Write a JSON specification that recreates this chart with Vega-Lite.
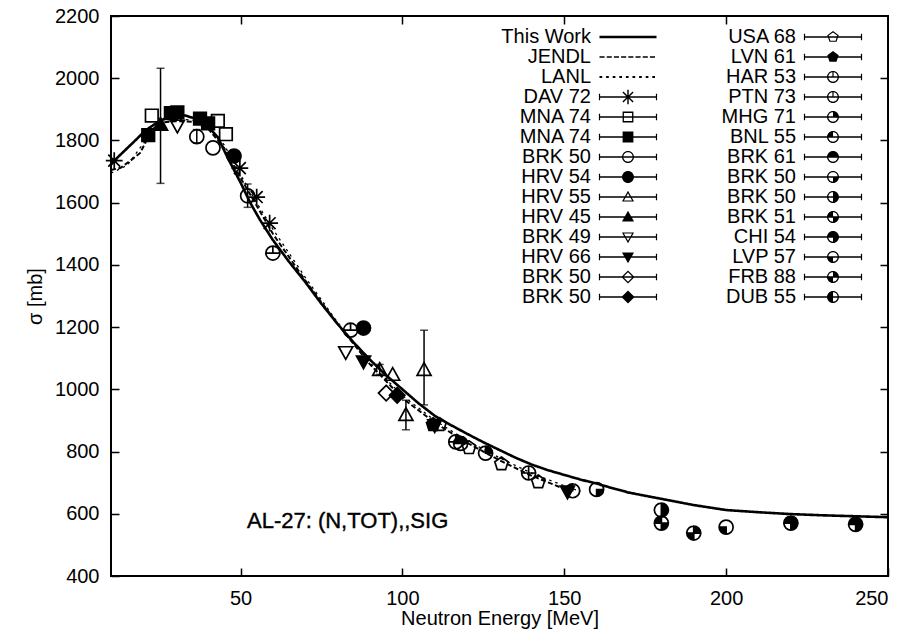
{
  "$schema": "https://vega.github.io/schema/vega-lite/v6.json",
  "width": 777,
  "height": 560,
  "autosize": {"type": "none"},
  "padding": {"left": 111, "top": 16, "right": 21, "bottom": 57},
  "background": "white",
  "config": {
    "font": "Liberation Sans",
    "view": {"stroke": "black", "strokeWidth": 2},
    "axis": {
      "domain": false, "grid": false,
      "tickColor": "black", "tickWidth": 1.5, "tickSize": -8,
      "labelColor": "black", "labelFont": "Liberation Sans", "labelFontSize": 20,
      "titleColor": "black", "titleFont": "Liberation Sans", "titleFontSize": 20, "titleFontWeight": "normal"
    }
  },
  "datasets": {
    "curves": [
      {"series": "This Work", "E": 10, "s": 1722}, {"series": "This Work", "E": 12, "s": 1745}, {"series": "This Work", "E": 15, "s": 1775},
      {"series": "This Work", "E": 18, "s": 1805}, {"series": "This Work", "E": 20, "s": 1826}, {"series": "This Work", "E": 22, "s": 1842},
      {"series": "This Work", "E": 25, "s": 1862}, {"series": "This Work", "E": 28, "s": 1876}, {"series": "This Work", "E": 30, "s": 1880},
      {"series": "This Work", "E": 33, "s": 1880}, {"series": "This Work", "E": 36, "s": 1870}, {"series": "This Work", "E": 40, "s": 1845},
      {"series": "This Work", "E": 43, "s": 1810}, {"series": "This Work", "E": 46, "s": 1745}, {"series": "This Work", "E": 48, "s": 1705},
      {"series": "This Work", "E": 50, "s": 1665}, {"series": "This Work", "E": 53, "s": 1600}, {"series": "This Work", "E": 56, "s": 1545},
      {"series": "This Work", "E": 60, "s": 1480}, {"series": "This Work", "E": 65, "s": 1410}, {"series": "This Work", "E": 70, "s": 1345},
      {"series": "This Work", "E": 75, "s": 1275}, {"series": "This Work", "E": 80, "s": 1210}, {"series": "This Work", "E": 85, "s": 1150},
      {"series": "This Work", "E": 90, "s": 1095}, {"series": "This Work", "E": 95, "s": 1045}, {"series": "This Work", "E": 100, "s": 1000},
      {"series": "This Work", "E": 105, "s": 955}, {"series": "This Work", "E": 110, "s": 915}, {"series": "This Work", "E": 115, "s": 885},
      {"series": "This Work", "E": 120, "s": 857}, {"series": "This Work", "E": 125, "s": 830}, {"series": "This Work", "E": 130, "s": 805},
      {"series": "This Work", "E": 135, "s": 780}, {"series": "This Work", "E": 140, "s": 758}, {"series": "This Work", "E": 145, "s": 740},
      {"series": "This Work", "E": 150, "s": 725}, {"series": "This Work", "E": 155, "s": 710}, {"series": "This Work", "E": 160, "s": 697},
      {"series": "This Work", "E": 165, "s": 682}, {"series": "This Work", "E": 170, "s": 668}, {"series": "This Work", "E": 180, "s": 648},
      {"series": "This Work", "E": 190, "s": 628}, {"series": "This Work", "E": 200, "s": 612}, {"series": "This Work", "E": 210, "s": 605},
      {"series": "This Work", "E": 220, "s": 599}, {"series": "This Work", "E": 230, "s": 595}, {"series": "This Work", "E": 240, "s": 592},
      {"series": "This Work", "E": 250, "s": 589},
      {"series": "JENDL", "E": 10, "s": 1705}, {"series": "JENDL", "E": 13, "s": 1712}, {"series": "JENDL", "E": 16, "s": 1735},
      {"series": "JENDL", "E": 19, "s": 1760}, {"series": "JENDL", "E": 21, "s": 1800}, {"series": "JENDL", "E": 23, "s": 1838},
      {"series": "JENDL", "E": 26, "s": 1858}, {"series": "JENDL", "E": 30, "s": 1862}, {"series": "JENDL", "E": 35, "s": 1860},
      {"series": "JENDL", "E": 40, "s": 1838}, {"series": "JENDL", "E": 45, "s": 1775}, {"series": "JENDL", "E": 50, "s": 1680},
      {"series": "JENDL", "E": 55, "s": 1590}, {"series": "JENDL", "E": 60, "s": 1500}, {"series": "JENDL", "E": 70, "s": 1350},
      {"series": "JENDL", "E": 80, "s": 1210}, {"series": "JENDL", "E": 90, "s": 1080}, {"series": "JENDL", "E": 100, "s": 972},
      {"series": "JENDL", "E": 110, "s": 893}, {"series": "JENDL", "E": 120, "s": 828}, {"series": "JENDL", "E": 130, "s": 772},
      {"series": "JENDL", "E": 140, "s": 722}, {"series": "JENDL", "E": 150, "s": 680},
      {"series": "LANL", "E": 10, "s": 1695}, {"series": "LANL", "E": 15, "s": 1720}, {"series": "LANL", "E": 20, "s": 1790},
      {"series": "LANL", "E": 25, "s": 1850}, {"series": "LANL", "E": 30, "s": 1870}, {"series": "LANL", "E": 35, "s": 1865},
      {"series": "LANL", "E": 40, "s": 1845}, {"series": "LANL", "E": 45, "s": 1785}, {"series": "LANL", "E": 50, "s": 1690},
      {"series": "LANL", "E": 55, "s": 1600}, {"series": "LANL", "E": 60, "s": 1515}, {"series": "LANL", "E": 70, "s": 1360},
      {"series": "LANL", "E": 80, "s": 1215}, {"series": "LANL", "E": 90, "s": 1085}, {"series": "LANL", "E": 100, "s": 980},
      {"series": "LANL", "E": 110, "s": 900}, {"series": "LANL", "E": 120, "s": 835}, {"series": "LANL", "E": 130, "s": 780},
      {"series": "LANL", "E": 140, "s": 730}, {"series": "LANL", "E": 150, "s": 690}, {"series": "LANL", "E": 155, "s": 672}
    ],
    "errs": [
      {"E": 25.3, "lo": 1662, "hi": 2032},
      {"E": 36.5, "lo": 1792, "hi": 1835},
      {"E": 52.2, "lo": 1585, "hi": 1660},
      {"E": 93, "lo": 1048, "hi": 1080},
      {"E": 101.1, "lo": 870, "hi": 965},
      {"E": 106.7, "lo": 950, "hi": 1190}
    ],
    "pts": [
      {"src": "DAV 72", "E": 11, "s": 1735}, {"src": "DAV 72", "E": 49.8, "s": 1711}, {"src": "DAV 72", "E": 55, "s": 1618}, {"src": "DAV 72", "E": 59, "s": 1534},
      {"src": "MNA 74|o", "E": 22.6, "s": 1880}, {"src": "MNA 74|o", "E": 43, "s": 1863}, {"src": "MNA 74|o", "E": 45.5, "s": 1820},
      {"src": "MNA 74|f", "E": 21.5, "s": 1817}, {"src": "MNA 74|f", "E": 28.5, "s": 1888}, {"src": "MNA 74|f", "E": 30.5, "s": 1890},
      {"src": "MNA 74|f", "E": 37.5, "s": 1870}, {"src": "MNA 74|f", "E": 40, "s": 1855},
      {"src": "BRK 50|c", "E": 36.5, "s": 1812}, {"src": "BRK 50|c", "E": 41.5, "s": 1776}, {"src": "BRK 50|c", "E": 52.2, "s": 1622},
      {"src": "HRV 54", "E": 48, "s": 1750}, {"src": "HRV 54", "E": 88, "s": 1197},
      {"src": "HRV 55", "E": 93, "s": 1062}, {"src": "HRV 55", "E": 97, "s": 1046}, {"src": "HRV 55", "E": 101.1, "s": 917}, {"src": "HRV 55", "E": 106.7, "s": 1062},
      {"src": "HRV 45", "E": 25.3, "s": 1850},
      {"src": "BRK 49", "E": 82.5, "s": 1120}, {"src": "BRK 49", "E": 30.5, "s": 1848},
      {"src": "HRV 66", "E": 88, "s": 1090}, {"src": "HRV 66", "E": 110, "s": 885}, {"src": "HRV 66", "E": 151, "s": 672},
      {"src": "BRK 50|d", "E": 95, "s": 988},
      {"src": "BRK 50|D", "E": 98.4, "s": 981},
      {"src": "USA 68", "E": 111.5, "s": 886}, {"src": "USA 68", "E": 120.6, "s": 812}, {"src": "USA 68", "E": 130.6, "s": 760}, {"src": "USA 68", "E": 142, "s": 702},
      {"src": "LVN 61", "E": 109.5, "s": 886},
      {"src": "HAR 53", "E": 60, "s": 1438}, {"src": "HAR 53", "E": 84, "s": 1190}, {"src": "HAR 53", "E": 116.5, "s": 831},
      {"src": "PTN 73", "E": 139, "s": 731},
      {"src": "MHG 71", "E": 125.7, "s": 795},
      {"src": "BNL 55", "E": 152.6, "s": 674},
      {"src": "BRK 61", "E": 118, "s": 826},
      {"src": "BRK 50|q1", "E": 160, "s": 678},
      {"src": "BRK 50|q2", "E": 180, "s": 612},
      {"src": "BRK 51", "E": 180, "s": 570},
      {"src": "FRB 88", "E": 190, "s": 538},
      {"src": "LVP 57", "E": 200, "s": 557},
      {"src": "CHI 54", "E": 220, "s": 570}, {"src": "CHI 54", "E": 240, "s": 566}
    ],
    "entries": [{"src": "This Work"}]
  },
  "layer": [
    {
      "data": {"name": "curves"},
      "mark": {"type": "line", "color": "black"},
      "encoding": {
        "x": {"field": "E", "type": "quantitative", "scale": {"domain": [10, 250], "nice": false, "zero": false},
              "axis": {"orient": "bottom", "values": [50, 100, 150, 200, 250], "title": "Neutron Energy [MeV]", "labelPadding": 20, "titlePadding": 0}},
        "y": {"field": "s", "type": "quantitative", "scale": {"domain": [400, 2200], "nice": false, "zero": false},
              "axis": {"orient": "left", "values": [400, 600, 800, 1000, 1200, 1400, 1600, 1800, 2000, 2200], "format": "d", "title": "σ [mb]", "labelPadding": 20, "titlePadding": 9}},
        "strokeDash": {"field": "series", "type": "nominal", "scale": {"domain": ["This Work", "JENDL", "LANL"], "range": [[1, 0], [5, 2.5], [2.5, 4]]}, "legend": null},
        "strokeWidth": {"field": "series", "type": "nominal", "scale": {"domain": ["This Work", "JENDL", "LANL"], "range": [2.6, 1.3, 1.4]}, "legend": null}
      }
    },
    {
      "data": {"name": "errs"},
      "mark": {"type": "errorbar", "ticks": {"size": 8, "thickness": 1.5, "color": "black"}, "thickness": 1.5, "color": "black"},
      "encoding": {
        "x": {"field": "E", "type": "quantitative", "axis": null},
        "y": {"field": "lo", "type": "quantitative", "axis": null},
        "y2": {"field": "hi"}
      }
    },
    {
      "data": {"name": "pts"},
      "mark": {"type": "point", "filled": true, "fill": "black", "stroke": "black", "strokeWidth": 1.7, "size": 196, "opacity": 1},
      "encoding": {
        "x": {"field": "E", "type": "quantitative", "axis": {"orient": "top", "values": [50, 100, 150, 200], "labels": false, "title": null}},
        "y": {"field": "s", "type": "quantitative", "axis": {"orient": "right", "values": [600, 800, 1000, 1200, 1400, 1600, 1800, 2000], "labels": false, "title": null}},
        "shape": {
          "field": "src", "type": "nominal", "legend": null,
          "scale": {
            "domain": ["DAV 72", "MNA 74|o", "MNA 74|f", "BRK 50|c", "HRV 54", "HRV 55", "HRV 45", "BRK 49", "HRV 66", "BRK 50|d", "BRK 50|D",
                       "USA 68", "LVN 61", "HAR 53", "PTN 73", "MHG 71", "BNL 55", "BRK 61", "BRK 50|q1", "BRK 50|q2", "BRK 51", "CHI 54", "LVP 57", "FRB 88", "DUB 55"],
            "range": [
              "M-1.2,0L1.2,0M0,-1.2L0,1.2M-0.85,-0.85L0.85,0.85M-0.85,0.85L0.85,-0.85",
              "M-0.9,-0.9L0.9,-0.9L0.9,0.9L-0.9,0.9ZM-0.9,-0.9L-0.9,0.9L0.9,0.9L0.9,-0.9Z",
              "M-0.9,-0.9L0.9,-0.9L0.9,0.9L-0.9,0.9Z",
              "M1,0A1,1,0,0,1,-1,0A1,1,0,0,1,1,0ZM1,0A1,1,0,0,0,-1,0A1,1,0,0,0,1,0Z",
              "M1,0A1,1,0,0,1,-1,0A1,1,0,0,1,1,0Z",
              "M0,-1.05L1,0.75L-1,0.75ZM0,-1.05L-1,0.75L1,0.75Z",
              "M0,-1.05L1,0.75L-1,0.75Z",
              "M0,1.05L1,-0.75L-1,-0.75ZM0,1.05L-1,-0.75L1,-0.75Z",
              "M0,1.05L1,-0.75L-1,-0.75Z",
              "M0,-1.1L1.1,0L0,1.1L-1.1,0ZM0,-1.1L-1.1,0L0,1.1L1.1,0Z",
              "M0,-1.1L1.1,0L0,1.1L-1.1,0Z",
              "M0,-1L0.95,-0.31L0.59,0.81L-0.59,0.81L-0.95,-0.31ZM0,-1L-0.95,-0.31L-0.59,0.81L0.59,0.81L0.95,-0.31Z",
              "M0,-1L0.95,-0.31L0.59,0.81L-0.59,0.81L-0.95,-0.31Z",
              "M1,0A1,1,0,0,1,-1,0A1,1,0,0,1,1,0ZM1,0A1,1,0,0,0,-1,0A1,1,0,0,0,1,0ZM0,-1L0,0M-1,0L1,0",
              "M1,0A1,1,0,0,1,-1,0A1,1,0,0,1,1,0ZM1,0A1,1,0,0,0,-1,0A1,1,0,0,0,1,0ZM0,-1L0,1M-1,0L1,0",
              "M1,0A1,1,0,0,1,-1,0A1,1,0,0,1,1,0ZM1,0A1,1,0,0,0,-1,0A1,1,0,0,0,1,0ZM0,0L0,-1A1,1,0,0,1,1,0Z",
              "M1,0A1,1,0,0,1,-1,0A1,1,0,0,1,1,0ZM1,0A1,1,0,0,0,-1,0A1,1,0,0,0,1,0ZM0,0L-1,0A1,1,0,0,1,0,-1Z",
              "M1,0A1,1,0,0,1,-1,0A1,1,0,0,1,1,0ZM1,0A1,1,0,0,0,-1,0A1,1,0,0,0,1,0ZM0,0L-1,0A1,1,0,0,1,0,-1ZM0,0L0,-1A1,1,0,0,1,1,0Z",
              "M1,0A1,1,0,0,1,-1,0A1,1,0,0,1,1,0ZM1,0A1,1,0,0,0,-1,0A1,1,0,0,0,1,0ZM0,0L1,0A1,1,0,0,1,0,1Z",
              "M1,0A1,1,0,0,1,-1,0A1,1,0,0,1,1,0ZM1,0A1,1,0,0,0,-1,0A1,1,0,0,0,1,0ZM0,0L0,-1A1,1,0,0,1,1,0ZM0,0L1,0A1,1,0,0,1,0,1Z",
              "M1,0A1,1,0,0,1,-1,0A1,1,0,0,1,1,0ZM1,0A1,1,0,0,0,-1,0A1,1,0,0,0,1,0ZM0,0L-1,0A1,1,0,0,1,0,-1ZM0,0L1,0A1,1,0,0,1,0,1Z",
              "M1,0A1,1,0,0,1,-1,0A1,1,0,0,1,1,0ZM1,0A1,1,0,0,0,-1,0A1,1,0,0,0,1,0ZM0,0L-1,0A1,1,0,0,1,0,-1ZM0,0L0,-1A1,1,0,0,1,1,0ZM0,0L1,0A1,1,0,0,1,0,1Z",
              "M1,0A1,1,0,0,1,-1,0A1,1,0,0,1,1,0ZM1,0A1,1,0,0,0,-1,0A1,1,0,0,0,1,0ZM0,0L0,1A1,1,0,0,1,-1,0Z",
              "M1,0A1,1,0,0,1,-1,0A1,1,0,0,1,1,0ZM1,0A1,1,0,0,0,-1,0A1,1,0,0,0,1,0ZM0,0L0,-1A1,1,0,0,1,1,0ZM0,0L0,1A1,1,0,0,1,-1,0Z",
              "M1,0A1,1,0,0,1,-1,0A1,1,0,0,1,1,0ZM1,0A1,1,0,0,0,-1,0A1,1,0,0,0,1,0ZM0,0L-1,0A1,1,0,0,1,0,-1ZM0,0L0,1A1,1,0,0,1,-1,0Z"
            ]
          }
        }
      }
    },
    {
      "data": {"name": "entries"},
      "mark": {"type": "point", "filled": true, "size": 144, "opacity": 0},
      "encoding": {
        "fill": {"value": "black"},
        "shape": {
          "field": "src", "type": "nominal",
          "scale": {
            "domain": ["This Work", "JENDL", "LANL", "DAV 72", "MNA 74|o", "MNA 74|f", "BRK 50|c", "HRV 54", "HRV 55", "HRV 45", "BRK 49", "HRV 66", "BRK 50|d", "BRK 50|D",
                       "USA 68", "LVN 61", "HAR 53", "PTN 73", "MHG 71", "BNL 55", "BRK 61", "BRK 50|q1", "BRK 50|q2", "BRK 51", "CHI 54", "LVP 57", "FRB 88", "DUB 55"],
            "range": [
              "M-4.75,-0.22L4.75,-0.22L4.75,0.22L-4.75,0.22Z",
              "M-4.75,-0.12L-3.9,-0.12L-3.9,0.12L-4.75,0.12ZM-3.55,-0.12L-2.7,-0.12L-2.7,0.12L-3.55,0.12ZM-2.35,-0.12L-1.5,-0.12L-1.5,0.12L-2.35,0.12ZM-1.15,-0.12L-0.3,-0.12L-0.3,0.12L-1.15,0.12ZM0.05,-0.12L0.9,-0.12L0.9,0.12L0.05,0.12ZM1.25,-0.12L2.1,-0.12L2.1,0.12L1.25,0.12ZM2.45,-0.12L3.3,-0.12L3.3,0.12L2.45,0.12ZM3.65,-0.12L4.5,-0.12L4.5,0.12L3.65,0.12Z",
              "M-4.75,-0.15L-4.3,-0.15L-4.3,0.15L-4.75,0.15ZM-3.65,-0.15L-3.2,-0.15L-3.2,0.15L-3.65,0.15ZM-2.55,-0.15L-2.1,-0.15L-2.1,0.15L-2.55,0.15ZM-1.45,-0.15L-1,-0.15L-1,0.15L-1.45,0.15ZM-0.35,-0.15L0.1,-0.15L0.1,0.15L-0.35,0.15ZM0.75,-0.15L1.2,-0.15L1.2,0.15L0.75,0.15ZM1.85,-0.15L2.3,-0.15L2.3,0.15L1.85,0.15ZM2.95,-0.15L3.4,-0.15L3.4,0.15L2.95,0.15ZM4.05,-0.15L4.5,-0.15L4.5,0.15L4.05,0.15Z",
              "M-4.85,-0.55L-4.65,-0.55L-4.65,0.55L-4.85,0.55ZM4.65,-0.55L4.85,-0.55L4.85,0.55L4.65,0.55ZM-4.75,-0.12L4.75,-0.12L4.75,0.12L-4.75,0.12ZM-0.12,-1.2L0.12,-1.2L0.12,1.2L-0.12,1.2ZM-0.765,-0.935L0.935,0.765L0.765,0.935L-0.935,-0.765ZM-0.935,0.765L0.765,-0.935L0.935,-0.765L-0.765,0.935Z",
              "M-4.85,-0.55L-4.65,-0.55L-4.65,0.55L-4.85,0.55ZM4.65,-0.55L4.85,-0.55L4.85,0.55L4.65,0.55ZM-4.75,-0.12L4.75,-0.12L4.75,0.12L-4.75,0.12ZM-0.9,-0.9L0.9,-0.9L0.9,0.9L-0.9,0.9ZM-0.68,-0.68L-0.68,0.68L0.68,0.68L0.68,-0.68Z",
              "M-4.85,-0.55L-4.65,-0.55L-4.65,0.55L-4.85,0.55ZM4.65,-0.55L4.85,-0.55L4.85,0.55L4.65,0.55ZM-4.75,-0.12L4.75,-0.12L4.75,0.12L-4.75,0.12ZM-0.9,-0.9L0.9,-0.9L0.9,0.9L-0.9,0.9Z",
              "M-4.85,-0.55L-4.65,-0.55L-4.65,0.55L-4.85,0.55ZM4.65,-0.55L4.85,-0.55L4.85,0.55L4.65,0.55ZM-4.75,-0.12L4.75,-0.12L4.75,0.12L-4.75,0.12ZM1,0A1,1,0,0,1,-1,0A1,1,0,0,1,1,0ZM0.78,0A0.78,0.78,0,0,0,-0.78,0A0.78,0.78,0,0,0,0.78,0Z",
              "M-4.85,-0.55L-4.65,-0.55L-4.65,0.55L-4.85,0.55ZM4.65,-0.55L4.85,-0.55L4.85,0.55L4.65,0.55ZM-4.75,-0.12L4.75,-0.12L4.75,0.12L-4.75,0.12ZM1,0A1,1,0,0,1,-1,0A1,1,0,0,1,1,0Z",
              "M-4.85,-0.55L-4.65,-0.55L-4.65,0.55L-4.85,0.55ZM4.65,-0.55L4.85,-0.55L4.85,0.55L4.65,0.55ZM-4.75,-0.12L4.75,-0.12L4.75,0.12L-4.75,0.12ZM0,-1.05L1,0.75L-1,0.75ZM0,-0.62L-0.68,0.58L0.68,0.58Z",
              "M-4.85,-0.55L-4.65,-0.55L-4.65,0.55L-4.85,0.55ZM4.65,-0.55L4.85,-0.55L4.85,0.55L4.65,0.55ZM-4.75,-0.12L4.75,-0.12L4.75,0.12L-4.75,0.12ZM0,-1.05L1,0.75L-1,0.75Z",
              "M-4.85,-0.55L-4.65,-0.55L-4.65,0.55L-4.85,0.55ZM4.65,-0.55L4.85,-0.55L4.85,0.55L4.65,0.55ZM-4.75,-0.12L4.75,-0.12L4.75,0.12L-4.75,0.12ZM0,1.05L-1,-0.75L1,-0.75ZM0,0.62L0.68,-0.58L-0.68,-0.58Z",
              "M-4.85,-0.55L-4.65,-0.55L-4.65,0.55L-4.85,0.55ZM4.65,-0.55L4.85,-0.55L4.85,0.55L4.65,0.55ZM-4.75,-0.12L4.75,-0.12L4.75,0.12L-4.75,0.12ZM0,1.05L-1,-0.75L1,-0.75Z",
              "M-4.85,-0.55L-4.65,-0.55L-4.65,0.55L-4.85,0.55ZM4.65,-0.55L4.85,-0.55L4.85,0.55L4.65,0.55ZM-4.75,-0.12L4.75,-0.12L4.75,0.12L-4.75,0.12ZM0,-1.1L1.1,0L0,1.1L-1.1,0ZM0,-0.8L-0.8,0L0,0.8L0.8,0Z",
              "M-4.85,-0.55L-4.65,-0.55L-4.65,0.55L-4.85,0.55ZM4.65,-0.55L4.85,-0.55L4.85,0.55L4.65,0.55ZM-4.75,-0.12L4.75,-0.12L4.75,0.12L-4.75,0.12ZM0,-1.1L1.1,0L0,1.1L-1.1,0Z",
              "M-4.85,-0.55L-4.65,-0.55L-4.65,0.55L-4.85,0.55ZM4.65,-0.55L4.85,-0.55L4.85,0.55L4.65,0.55ZM-4.75,-0.12L4.75,-0.12L4.75,0.12L-4.75,0.12ZM0,-1L0.95,-0.31L0.59,0.81L-0.59,0.81L-0.95,-0.31ZM0,-0.75L-0.71,-0.23L-0.44,0.61L0.44,0.61L0.71,-0.23Z",
              "M-4.85,-0.55L-4.65,-0.55L-4.65,0.55L-4.85,0.55ZM4.65,-0.55L4.85,-0.55L4.85,0.55L4.65,0.55ZM-4.75,-0.12L4.75,-0.12L4.75,0.12L-4.75,0.12ZM0,-1L0.95,-0.31L0.59,0.81L-0.59,0.81L-0.95,-0.31Z",
              "M-4.85,-0.55L-4.65,-0.55L-4.65,0.55L-4.85,0.55ZM4.65,-0.55L4.85,-0.55L4.85,0.55L4.65,0.55ZM-4.75,-0.12L4.75,-0.12L4.75,0.12L-4.75,0.12ZM1,0A1,1,0,0,1,-1,0A1,1,0,0,1,1,0ZM0.78,0A0.78,0.78,0,0,0,-0.78,0A0.78,0.78,0,0,0,0.78,0ZM-0.1,-1L0.1,-1L0.1,0L-0.1,0Z",
              "M-4.85,-0.55L-4.65,-0.55L-4.65,0.55L-4.85,0.55ZM4.65,-0.55L4.85,-0.55L4.85,0.55L4.65,0.55ZM-4.75,-0.12L4.75,-0.12L4.75,0.12L-4.75,0.12ZM1,0A1,1,0,0,1,-1,0A1,1,0,0,1,1,0ZM0.78,0A0.78,0.78,0,0,0,-0.78,0A0.78,0.78,0,0,0,0.78,0ZM-0.1,-1L0.1,-1L0.1,0L-0.1,0Z",
              "M-4.85,-0.55L-4.65,-0.55L-4.65,0.55L-4.85,0.55ZM4.65,-0.55L4.85,-0.55L4.85,0.55L4.65,0.55ZM-4.75,-0.12L4.75,-0.12L4.75,0.12L-4.75,0.12ZM1,0A1,1,0,0,1,-1,0A1,1,0,0,1,1,0ZM0.78,0A0.78,0.78,0,0,0,-0.78,0A0.78,0.78,0,0,0,0.78,0ZM0,0L0,-1A1,1,0,0,1,1,0Z",
              "M-4.85,-0.55L-4.65,-0.55L-4.65,0.55L-4.85,0.55ZM4.65,-0.55L4.85,-0.55L4.85,0.55L4.65,0.55ZM-4.75,-0.12L4.75,-0.12L4.75,0.12L-4.75,0.12ZM1,0A1,1,0,0,1,-1,0A1,1,0,0,1,1,0ZM0.78,0A0.78,0.78,0,0,0,-0.78,0A0.78,0.78,0,0,0,0.78,0ZM0,0L-1,0A1,1,0,0,1,0,-1Z",
              "M-4.85,-0.55L-4.65,-0.55L-4.65,0.55L-4.85,0.55ZM4.65,-0.55L4.85,-0.55L4.85,0.55L4.65,0.55ZM-4.75,-0.12L4.75,-0.12L4.75,0.12L-4.75,0.12ZM1,0A1,1,0,0,1,-1,0A1,1,0,0,1,1,0ZM0.78,0A0.78,0.78,0,0,0,-0.78,0A0.78,0.78,0,0,0,0.78,0ZM0,0L-1,0A1,1,0,0,1,0,-1ZM0,0L0,-1A1,1,0,0,1,1,0Z",
              "M-4.85,-0.55L-4.65,-0.55L-4.65,0.55L-4.85,0.55ZM4.65,-0.55L4.85,-0.55L4.85,0.55L4.65,0.55ZM-4.75,-0.12L4.75,-0.12L4.75,0.12L-4.75,0.12ZM1,0A1,1,0,0,1,-1,0A1,1,0,0,1,1,0ZM0.78,0A0.78,0.78,0,0,0,-0.78,0A0.78,0.78,0,0,0,0.78,0ZM0,0L1,0A1,1,0,0,1,0,1Z",
              "M-4.85,-0.55L-4.65,-0.55L-4.65,0.55L-4.85,0.55ZM4.65,-0.55L4.85,-0.55L4.85,0.55L4.65,0.55ZM-4.75,-0.12L4.75,-0.12L4.75,0.12L-4.75,0.12ZM1,0A1,1,0,0,1,-1,0A1,1,0,0,1,1,0ZM0.78,0A0.78,0.78,0,0,0,-0.78,0A0.78,0.78,0,0,0,0.78,0ZM0,0L0,-1A1,1,0,0,1,1,0ZM0,0L1,0A1,1,0,0,1,0,1Z",
              "M-4.85,-0.55L-4.65,-0.55L-4.65,0.55L-4.85,0.55ZM4.65,-0.55L4.85,-0.55L4.85,0.55L4.65,0.55ZM-4.75,-0.12L4.75,-0.12L4.75,0.12L-4.75,0.12ZM1,0A1,1,0,0,1,-1,0A1,1,0,0,1,1,0ZM0.78,0A0.78,0.78,0,0,0,-0.78,0A0.78,0.78,0,0,0,0.78,0ZM0,0L-1,0A1,1,0,0,1,0,-1ZM0,0L1,0A1,1,0,0,1,0,1Z",
              "M-4.85,-0.55L-4.65,-0.55L-4.65,0.55L-4.85,0.55ZM4.65,-0.55L4.85,-0.55L4.85,0.55L4.65,0.55ZM-4.75,-0.12L4.75,-0.12L4.75,0.12L-4.75,0.12ZM1,0A1,1,0,0,1,-1,0A1,1,0,0,1,1,0ZM0.78,0A0.78,0.78,0,0,0,-0.78,0A0.78,0.78,0,0,0,0.78,0ZM0,0L-1,0A1,1,0,0,1,0,-1ZM0,0L0,-1A1,1,0,0,1,1,0ZM0,0L1,0A1,1,0,0,1,0,1Z",
              "M-4.85,-0.55L-4.65,-0.55L-4.65,0.55L-4.85,0.55ZM4.65,-0.55L4.85,-0.55L4.85,0.55L4.65,0.55ZM-4.75,-0.12L4.75,-0.12L4.75,0.12L-4.75,0.12ZM1,0A1,1,0,0,1,-1,0A1,1,0,0,1,1,0ZM0.78,0A0.78,0.78,0,0,0,-0.78,0A0.78,0.78,0,0,0,0.78,0ZM0,0L0,1A1,1,0,0,1,-1,0Z",
              "M-4.85,-0.55L-4.65,-0.55L-4.65,0.55L-4.85,0.55ZM4.65,-0.55L4.85,-0.55L4.85,0.55L4.65,0.55ZM-4.75,-0.12L4.75,-0.12L4.75,0.12L-4.75,0.12ZM1,0A1,1,0,0,1,-1,0A1,1,0,0,1,1,0ZM0.78,0A0.78,0.78,0,0,0,-0.78,0A0.78,0.78,0,0,0,0.78,0ZM0,0L0,-1A1,1,0,0,1,1,0ZM0,0L0,1A1,1,0,0,1,-1,0Z",
              "M-4.85,-0.55L-4.65,-0.55L-4.65,0.55L-4.85,0.55ZM4.65,-0.55L4.85,-0.55L4.85,0.55L4.65,0.55ZM-4.75,-0.12L4.75,-0.12L4.75,0.12L-4.75,0.12ZM1,0A1,1,0,0,1,-1,0A1,1,0,0,1,1,0ZM0.78,0A0.78,0.78,0,0,0,-0.78,0A0.78,0.78,0,0,0,0.78,0ZM0,0L-1,0A1,1,0,0,1,0,-1ZM0,0L0,1A1,1,0,0,1,-1,0Z"
            ]
          },
          "legend": {
            "title": null, "orient": "none", "legendX": 507, "legendY": 11,
            "columns": 2, "columnPadding": 63, "rowPadding": -1.3, "padding": 0,
            "labelFont": "Liberation Sans", "labelFontSize": 20, "labelColor": "black",
            "labelAlign": "right", "labelOffset": -47,
            "symbolSize": 144, "symbolOpacity": 1, "symbolFillColor": "black", "symbolStrokeWidth": 0,
            "labelExpr": "split(datum.label, '|')[0]"
          }
        }
      }
    },
    {
      "data": {"values": [{}]},
      "mark": {"type": "text", "text": "AL-27: (N,TOT),,SIG", "align": "left", "baseline": "middle", "fontSize": 22, "font": "Liberation Sans", "color": "black", "stroke": "black", "strokeWidth": 0.4},
      "encoding": {
        "x": {"datum": 52, "type": "quantitative", "axis": null},
        "y": {"datum": 577, "type": "quantitative", "axis": null}
      }
    }
  ],
  "resolve": {
    "axis": {"x": "independent", "y": "independent"},
    "scale": {"shape": "independent"}
  }
}
